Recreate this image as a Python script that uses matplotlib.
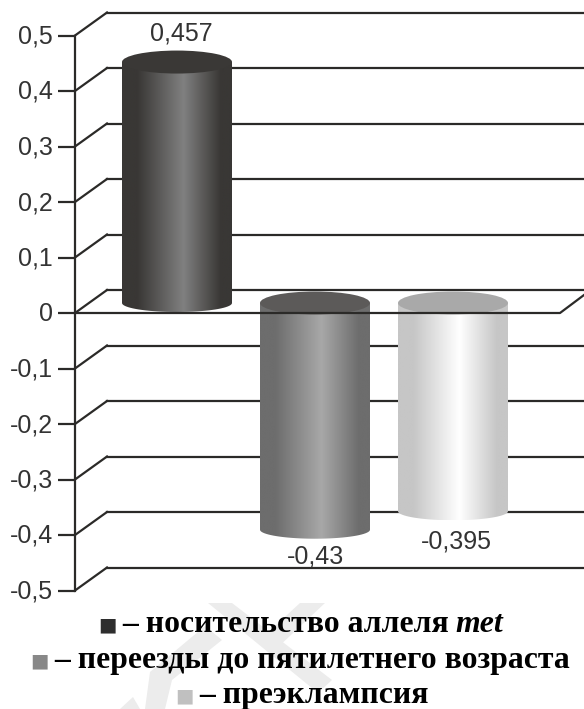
import numpy as np
import matplotlib
matplotlib.use("Agg")
import matplotlib.pyplot as plt
from matplotlib.colors import LinearSegmentedColormap
from matplotlib.patches import Ellipse, PathPatch, Polygon
from matplotlib.path import Path

series_names = ["носительство аллеля", "переезды до пятилетнего возраста", "преэклампсия"]
series_values = [0.457, -0.43, -0.395]
value_labels = ["0,457", "-0,43", "-0,395"]
tick_values = [0.5, 0.4, 0.3, 0.2, 0.1, 0, -0.1, -0.2, -0.3, -0.4, -0.5]
tick_labels = ["0,5", "0,4", "0,3", "0,2", "0,1", "0", "-0,1", "-0,2", "-0,3", "-0,4", "-0,5"]

W, H = 584, 709
ZERO_PX, UNIT_PX = 313.0, 555.0
fig = plt.figure(figsize=(W / 100, H / 100), dpi=100)
ax = fig.add_axes([0, 0, 1, 1])
ax.set_xlim(0, W)
ax.set_ylim((ZERO_PX - H) / UNIT_PX, ZERO_PX / UNIT_PX)
ax.axis("off")
px = lambda n: n / UNIT_PX  # pixel length -> y data length

INK = "#2b2a28"
TXT = "#333333"
LW = 1.6
X0, DX, DY = 75, 32, px(23)
XR = 584
TICK_FS = 18

# watermark
for pts in ([(208, 603), (232, 603), (332, 680), (318, 693)],
            [(300, 603), (325, 603), (275, 650), (262, 638)],
            [(205, 626), (222, 640), (172, 680), (165, 709), (145, 709), (150, 672)],
            [(120, 709), (133, 697), (140, 709)]):
    ax.add_patch(Polygon([(x, (ZERO_PX - y) / UNIT_PX) for x, y in pts],
                         fc="#ececec", ec="none", zorder=0))

# back wall gridlines, sidewall diagonals, ticks
for v in tick_values:
    ax.plot([X0 - 17, X0], [v, v], color=INK, lw=LW, zorder=1, solid_capstyle="butt")
    ax.plot([X0, X0 + DX], [v, v + DY], color=INK, lw=LW, zorder=1)
    ax.plot([X0 + DX, XR], [v + DY, v + DY], color=INK, lw=LW, zorder=1)
ax.plot([X0, X0], [tick_values[-1], tick_values[0]], color=INK, lw=LW, zorder=1)
for v, s in zip(tick_values, tick_labels):
    ax.text(X0 - 22, v - px(1), s, ha="right", va="center", fontsize=TICK_FS,
            family="Liberation Sans", color=TXT, zorder=6)

# cylinders
bar_left = [122, 260, 398]
bar_width = 110.0
bar_base_px = 10.0
bar_scale = 0.95
cap_colors = ["#3a3836", "#5c5a59", "#a9a9a9"]
side_edge = ["#393735", "#6d6d6d", "#c6c6c6"]
side_mid = ["#808080", "#a8a8a8", "#ffffff"]
CAP_RY = px(11.5)
LOW_RY = px(9.0)

for i, (val, left) in enumerate(zip(series_values, bar_left)):
    base = px(bar_base_px)
    end = val * bar_scale + base
    cx = left + bar_width / 2
    cmap = LinearSegmentedColormap.from_list(
        "c", [(0, side_edge[i]), (0.14, side_edge[i]), (0.56, side_mid[i]),
              (0.9, side_edge[i]), (1, side_edge[i])])
    if val >= 0:
        upper, lower = end, base
    else:
        upper, lower = base, end
    t = np.linspace(np.pi, 2 * np.pi, 40)
    lx = cx + bar_width / 2 * np.cos(t)
    ly = lower + LOW_RY * np.sin(t)
    verts = list(zip(lx, ly)) + [(left + bar_width, upper), (left, upper), (left, lower)]
    clip = PathPatch(Path(verts), transform=ax.transData, fc="none", ec="none")
    ax.add_patch(clip)
    im = ax.imshow(np.linspace(0, 1, 256)[None, :], cmap=cmap, aspect="auto",
                   extent=[left, left + bar_width, lower - LOW_RY, upper], zorder=3)
    im.set_clip_path(clip)
    ax.add_patch(Ellipse((cx, upper), bar_width, 2 * CAP_RY, fc=cap_colors[i], ec="none", zorder=4))

ax.set_xlim(0, W)
ax.set_ylim((ZERO_PX - H) / UNIT_PX, ZERO_PX / UNIT_PX)

# floor front edge on top of the cylinders
ax.plot([X0, 560, XR], [0, 0, px(18)], color=INK, lw=LW, zorder=5)

label_x = [181, 315, 456]
label_offset = [px(26), -px(4.5), -px(9)]
for x, v, off, s in zip(label_x, series_values, label_offset, value_labels):
    ax.text(x, v + off, s, ha="center", va="center", fontsize=TICK_FS,
            family="Liberation Sans", color=TXT, zorder=6)

# legend
leg_colors = ["#2e2e2e", "#888888", "#c0c0c0"]
leg_left = [98, 30, 175]
leg_base = [632, 668, 703]
renderer = fig.canvas.get_renderer()
FS = 22.85
for i, name in enumerate(series_names):
    y = (ZERO_PX - leg_base[i]) / UNIT_PX
    ax.text(leg_left[i], y + px(2), "■", color=leg_colors[i], fontsize=14, family="DejaVu Sans",
            va="baseline", ha="left", zorder=6)
    t = ax.text(leg_left[i] + 24, y, "– " + name, color="black", fontsize=FS, fontweight="bold",
                family="Liberation Serif", va="baseline", ha="left", zorder=6)
    if i == 0:
        e = t.get_window_extent(renderer)
        ax.text(e.x1 + 7, y, "met", color="black", fontsize=FS, fontweight="bold", style="italic",
                family="Liberation Serif", va="baseline", ha="left", zorder=6)

fig.savefig("out.png", dpi=100, facecolor="white")
